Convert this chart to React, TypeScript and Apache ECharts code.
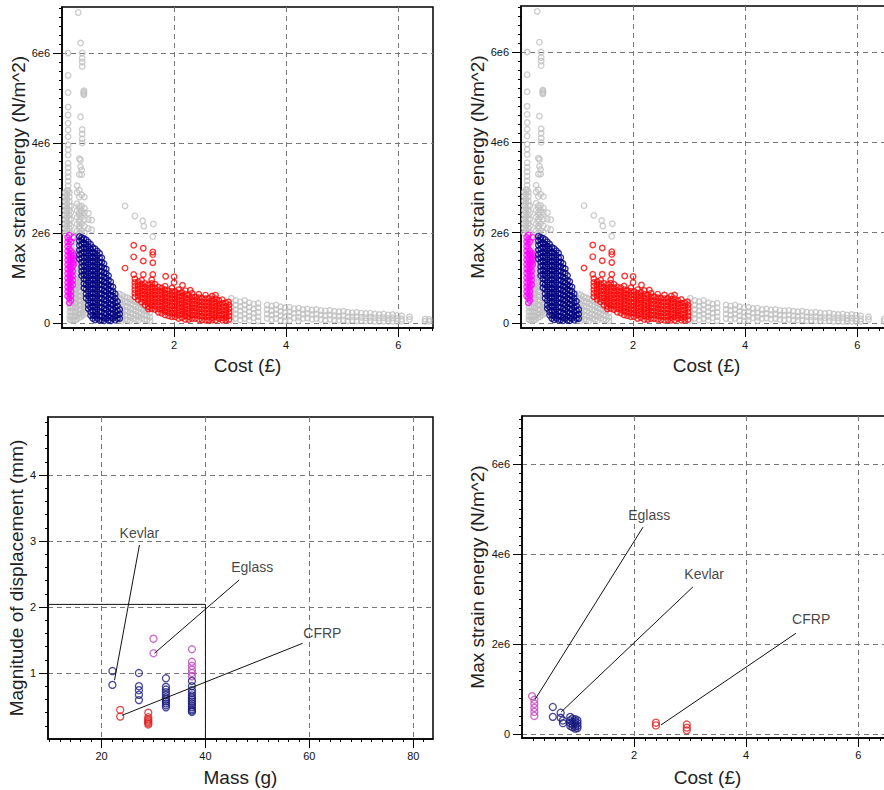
import React, { useEffect, useRef } from "react";
import * as echarts from "echarts";

type Col = [number, number[]];

// ---------- Top panels: Cost (£) vs Max strain energy (values in millions of N/m^2) ----------
const grayCols: Col[] = [
  [0.11, [6.0, 5.5, 5.12, 4.8, 4.62, 4.44, 4.29, 4.14, 3.96, 3.85, 3.73, 3.55, 3.45, 3.35, 3.25, 3.15, 3.05, 2.95]],
  [0.06, [2.9, 2.8, 2.7, 2.6, 2.5, 2.4, 2.3, 2.2, 2.1, 2.0]],
  [0.09, [2.95, 2.85, 2.75, 2.65, 2.55, 2.45, 2.35, 2.25, 2.15, 2.05]],
  [0.13, [2.9, 2.8, 2.7, 2.6, 2.5, 2.4, 2.3, 2.2, 2.1, 2.0]],
  [0.16, [2.6, 2.45, 2.3, 2.15, 2.0]],
  [0.29, [6.9]],
  [0.33, [6.22, 4.58, 3.62, 3.47]],
  [0.36, [6.0, 5.88, 5.8, 5.7, 4.3, 4.2, 4.09, 4.0]],
  [0.39, [5.16, 5.13, 5.1, 5.07]],
  [0.27, [3.05, 2.9, 2.65, 2.5, 2.35, 2.2, 2.05]],
  [0.31, [3.65, 3.3, 2.95, 2.8, 2.6, 2.55, 2.45, 2.4, 2.3, 2.25, 2.15, 2.1, 2.0]],
  [0.35, [3.4, 3.3, 2.85, 2.6, 2.5, 2.45, 2.35, 2.2, 2.05]],
  [0.4, [2.8, 2.55, 2.45, 2.3, 2.15, 2.0]],
  [0.47, [2.44, 2.3, 2.1]],
  [0.53, [2.29, 2.07]],
  [0.14, [0.55, 0.45, 0.35, 0.25, 0.15, 0.08]],
  [0.17, [0.75, 0.65, 0.55, 0.45, 0.35, 0.25, 0.15, 0.06]],
  [0.2, [0.85, 0.75, 0.65, 0.55, 0.45, 0.35, 0.25, 0.15, 0.06]],
  [0.23, [1.05, 0.95, 0.85, 0.75, 0.65, 0.55, 0.45, 0.35, 0.25, 0.15, 0.06]],
  [0.26, [1.85, 1.7, 1.55, 1.4, 1.25, 1.1, 0.95, 0.85, 0.75, 0.65, 0.55, 0.45, 0.35, 0.25, 0.15, 0.08]],
  [0.3, [1.6, 1.45, 1.3, 1.15, 1.0, 0.9, 0.8, 0.7, 0.6, 0.5, 0.4, 0.3, 0.2, 0.12]],
  [0.34, [1.2, 1.0, 0.85, 0.7, 0.6, 0.5, 0.4, 0.3, 0.2, 0.14]],
  [0.38, [0.65, 0.55, 0.45, 0.35, 0.25, 0.18]],
  [0.42, [0.4, 0.3, 0.22]],
  [1.02, [0.65, 0.55, 0.45, 0.35, 0.25, 0.15, 0.07]],
  [1.07, [0.62, 0.52, 0.42, 0.32, 0.22, 0.12, 0.05]],
  [1.12, [0.58, 0.48, 0.38, 0.28, 0.18, 0.08]],
  [1.17, [0.56, 0.46, 0.36, 0.26, 0.16, 0.07]],
  [1.22, [0.53, 0.43, 0.33, 0.23, 0.13, 0.05]],
  [1.27, [0.5, 0.4, 0.3, 0.2, 0.1]],
  [1.32, [0.47, 0.37, 0.27, 0.17, 0.08]],
  [1.37, [0.44, 0.34, 0.24, 0.14, 0.06]],
  [1.42, [0.41, 0.31, 0.21, 0.11]],
  [1.47, [0.38, 0.28, 0.18, 0.08]],
  [1.52, [0.36, 0.26, 0.16, 0.07]],
  [1.57, [0.33, 0.23, 0.13, 0.05]],
  [1.125, [2.6]],
  [1.3, [2.38]],
  [1.44, [2.27]],
  [1.46, [2.15]],
  [1.63, [2.2]],
  [1.62, [1.92]],
  [3.02, [0.55, 0.45, 0.35, 0.25, 0.15, 0.06]],
  [3.1, [0.5, 0.4, 0.3, 0.2, 0.1]],
  [3.18, [0.47, 0.37, 0.27, 0.17, 0.07]],
  [3.26, [0.5, 0.4, 0.3, 0.2, 0.1]],
  [3.34, [0.45, 0.35, 0.25, 0.15, 0.06]],
  [3.42, [0.42, 0.32, 0.22, 0.12]],
  [3.5, [0.44, 0.34, 0.24, 0.14, 0.05]],
  [3.66, [0.4, 0.3, 0.2, 0.1]],
  [3.74, [0.38, 0.28, 0.18, 0.08]],
  [3.82, [0.4, 0.3, 0.2, 0.1]],
  [3.9, [0.36, 0.26, 0.16, 0.06]],
  [3.98, [0.34, 0.24, 0.14, 0.05]],
  [4.06, [0.35, 0.25, 0.15, 0.06]],
  [4.14, [0.32, 0.22, 0.12]],
  [4.22, [0.33, 0.23, 0.13, 0.05]],
  [4.3, [0.3, 0.2, 0.1]],
  [4.38, [0.31, 0.21, 0.11]],
  [4.46, [0.29, 0.19, 0.09]],
  [4.54, [0.3, 0.2, 0.1]],
  [4.62, [0.28, 0.18, 0.08]],
  [4.7, [0.27, 0.17, 0.07]],
  [4.78, [0.28, 0.18, 0.08]],
  [4.86, [0.26, 0.16, 0.07]],
  [4.94, [0.25, 0.15, 0.06]],
  [5.02, [0.26, 0.16, 0.07]],
  [5.1, [0.24, 0.14, 0.05]],
  [5.18, [0.23, 0.14, 0.06]],
  [5.26, [0.24, 0.14, 0.05]],
  [5.34, [0.22, 0.13, 0.05]],
  [5.42, [0.21, 0.12, 0.05]],
  [5.5, [0.22, 0.13, 0.05]],
  [5.58, [0.2, 0.12, 0.04]],
  [5.66, [0.19, 0.11, 0.04]],
  [5.74, [0.2, 0.12, 0.04]],
  [5.82, [0.18, 0.1, 0.04]],
  [5.9, [0.19, 0.11, 0.04]],
  [5.98, [0.17, 0.1, 0.04]],
  [6.06, [0.16, 0.09, 0.04]],
  [6.2, [0.14, 0.08]],
  [6.48, [0.09, 0.04]],
  [6.55, [0.08, 0.04]],
];

const magentaCols: Col[] = [
  [0.1, [1.9, 1.8, 1.7, 1.6, 1.5, 1.4, 1.3, 1.2, 1.1, 1.0, 0.9, 0.8, 0.7, 0.6]],
  [0.13, [1.95, 1.85, 1.75, 1.65, 1.55, 1.45, 1.35, 1.25, 1.15, 1.05, 0.95, 0.85, 0.75, 0.65, 0.55, 0.45]],
  [0.16, [1.8, 1.6, 1.5, 1.4, 1.3, 1.2, 1.1, 1.0, 0.9, 0.8, 0.7, 0.6, 0.5]],
  [0.19, [1.55, 1.45, 1.35, 1.25, 1.15, 1.05, 0.95, 0.85]],
  [0.21, [1.9, 1.5, 1.4, 1.3]],
];

const navyCols: Col[] = [
  [0.31, [1.92, 1.82, 1.72, 1.62, 1.52, 1.42]],
  [0.35, [1.9, 1.85, 1.75, 1.65, 1.55, 1.45, 1.35, 1.25, 1.15, 1.05]],
  [0.39, [1.88, 1.78, 1.68, 1.58, 1.48, 1.38, 1.28, 1.18, 1.08, 0.98, 0.88, 0.78]],
  [0.43, [1.85, 1.75, 1.65, 1.55, 1.45, 1.35, 1.25, 1.15, 1.05, 0.95, 0.85, 0.75, 0.65, 0.55]],
  [0.47, [1.8, 1.7, 1.6, 1.5, 1.4, 1.3, 1.2, 1.1, 1.0, 0.9, 0.8, 0.7, 0.6, 0.5, 0.4, 0.32]],
  [0.51, [1.75, 1.65, 1.55, 1.45, 1.35, 1.25, 1.15, 1.05, 0.95, 0.85, 0.75, 0.65, 0.55, 0.45, 0.35, 0.25, 0.17]],
  [0.55, [1.68, 1.58, 1.48, 1.38, 1.28, 1.18, 1.08, 0.98, 0.88, 0.78, 0.68, 0.58, 0.48, 0.38, 0.28, 0.18, 0.1]],
  [0.59, [1.65, 1.55, 1.45, 1.35, 1.25, 1.15, 1.05, 0.95, 0.85, 0.75, 0.65, 0.55, 0.45, 0.35, 0.25, 0.15, 0.07]],
  [0.63, [1.6, 1.5, 1.4, 1.3, 1.2, 1.1, 1.0, 0.9, 0.8, 0.7, 0.6, 0.5, 0.4, 0.3, 0.2, 0.1]],
  [0.67, [1.55, 1.45, 1.35, 1.25, 1.15, 1.05, 0.95, 0.85, 0.75, 0.65, 0.55, 0.45, 0.35, 0.25, 0.15, 0.06]],
  [0.71, [1.45, 1.35, 1.25, 1.15, 1.05, 0.95, 0.85, 0.75, 0.65, 0.55, 0.45, 0.35, 0.25, 0.15, 0.07]],
  [0.75, [1.32, 1.22, 1.12, 1.02, 0.92, 0.82, 0.72, 0.62, 0.52, 0.42, 0.32, 0.22, 0.12, 0.05]],
  [0.79, [1.2, 1.1, 1.0, 0.9, 0.8, 0.7, 0.6, 0.5, 0.4, 0.3, 0.2, 0.1]],
  [0.83, [1.05, 0.95, 0.85, 0.75, 0.65, 0.55, 0.45, 0.35, 0.25, 0.15, 0.06]],
  [0.87, [0.92, 0.82, 0.72, 0.62, 0.52, 0.42, 0.32, 0.22, 0.12, 0.05]],
  [0.91, [0.8, 0.7, 0.6, 0.5, 0.4, 0.3, 0.2, 0.1]],
  [0.95, [0.65, 0.55, 0.45, 0.35, 0.25, 0.15, 0.06]],
  [0.99, [0.48, 0.38, 0.28, 0.18, 0.1]],
  [1.03, [0.3, 0.2, 0.1]],
];

const redCols: Col[] = [
  [1.125, [1.22]],
  [1.28, [1.73, 1.47, 1.08]],
  [1.45, [1.66, 1.38, 1.08]],
  [1.62, [1.58, 1.52, 1.34, 1.08]],
  [1.85, [1.04]],
  [2.0, [1.03, 0.9]],
  [2.15, [0.84]],
  [2.29, [0.73]],
  [2.97, [0.47]],
  [1.3, [0.98, 0.9, 0.82, 0.74, 0.66, 0.58]],
  [1.36, [0.92, 0.84, 0.76, 0.68, 0.6, 0.52]],
  [1.42, [0.95, 0.87, 0.79, 0.71, 0.63, 0.55, 0.47]],
  [1.48, [0.88, 0.8, 0.72, 0.64, 0.56, 0.48, 0.4]],
  [1.54, [0.85, 0.77, 0.69, 0.61, 0.53, 0.45, 0.37, 0.31]],
  [1.6, [0.96, 0.88, 0.8, 0.72, 0.64, 0.56, 0.48, 0.4, 0.32]],
  [1.66, [0.86, 0.78, 0.7, 0.62, 0.54, 0.46, 0.38, 0.3]],
  [1.72, [0.8, 0.72, 0.64, 0.56, 0.48, 0.4, 0.32, 0.24]],
  [1.78, [0.78, 0.7, 0.62, 0.54, 0.46, 0.38, 0.3, 0.22]],
  [1.84, [0.82, 0.74, 0.66, 0.58, 0.5, 0.42, 0.34, 0.26, 0.18]],
  [1.9, [0.72, 0.64, 0.56, 0.48, 0.4, 0.32, 0.24, 0.16]],
  [1.96, [0.78, 0.7, 0.62, 0.54, 0.46, 0.38, 0.3, 0.22, 0.14]],
  [2.02, [0.7, 0.62, 0.54, 0.46, 0.38, 0.3, 0.22, 0.14]],
  [2.08, [0.74, 0.66, 0.58, 0.5, 0.42, 0.34, 0.26, 0.18, 0.1]],
  [2.14, [0.68, 0.6, 0.52, 0.44, 0.36, 0.28, 0.2, 0.12]],
  [2.2, [0.72, 0.64, 0.56, 0.48, 0.4, 0.32, 0.24, 0.16, 0.08]],
  [2.26, [0.62, 0.54, 0.46, 0.38, 0.3, 0.22, 0.14, 0.08]],
  [2.32, [0.66, 0.58, 0.5, 0.42, 0.34, 0.26, 0.18, 0.1]],
  [2.38, [0.58, 0.5, 0.42, 0.34, 0.26, 0.18, 0.1]],
  [2.44, [0.64, 0.56, 0.48, 0.4, 0.32, 0.24, 0.16, 0.08]],
  [2.5, [0.55, 0.47, 0.39, 0.31, 0.23, 0.15, 0.07]],
  [2.56, [0.62, 0.54, 0.46, 0.38, 0.3, 0.22, 0.14, 0.06]],
  [2.62, [0.55, 0.47, 0.39, 0.31, 0.23, 0.15, 0.07]],
  [2.68, [0.6, 0.52, 0.44, 0.36, 0.28, 0.2, 0.12, 0.06]],
  [2.74, [0.62, 0.54, 0.46, 0.38, 0.3, 0.22, 0.14, 0.06]],
  [2.8, [0.5, 0.42, 0.34, 0.26, 0.18, 0.1]],
  [2.86, [0.52, 0.44, 0.36, 0.28, 0.2, 0.12, 0.06]],
  [2.92, [0.45, 0.37, 0.29, 0.21, 0.13, 0.06]],
  [2.98, [0.4, 0.32, 0.24, 0.16, 0.08]],
];

// ---------- Bottom-left: Mass (g) vs Magnitude of displacement (mm) ----------
const kevlarMass: Col[] = [
  [22.1, [1.03, 0.82]],
  [27.2, [1.0, 0.8, 0.74, 0.67, 0.59]],
  [32.4, [0.92, 0.79, 0.75, 0.71, 0.67, 0.63, 0.6, 0.57, 0.54, 0.51, 0.48]],
  [37.4, [0.88, 0.8, 0.74, 0.7, 0.66, 0.63, 0.6, 0.57, 0.54, 0.51, 0.48, 0.45, 0.43, 0.41]],
];
const eglassMass: Col[] = [
  [30.0, [1.52, 1.3]],
  [37.4, [1.36, 1.17, 1.11, 1.05, 1.0, 0.95]],
];
const cfrpMass: Col[] = [
  [23.6, [0.44, 0.34]],
  [29.0, [0.4, 0.33, 0.3, 0.28, 0.26, 0.24, 0.22]],
];
const massLimit = 40;
const dispLimit = 2.04;

// ---------- Bottom-right: Cost (£) vs Max strain energy (millions) ----------
const eglassCost: Col[] = [
  [0.18, [0.84]],
  [0.22, [0.76, 0.67, 0.58, 0.49, 0.4]],
];
const kevlarCost: Col[] = [
  [0.55, [0.6, 0.38]],
  [0.69, [0.47, 0.36]],
  [0.73, [0.3, 0.24]],
  [0.86, [0.38, 0.3, 0.24, 0.18]],
  [0.9, [0.34, 0.27, 0.21, 0.15]],
  [0.95, [0.33, 0.28, 0.22, 0.17, 0.12]],
  [0.99, [0.3, 0.24, 0.18, 0.13]],
];
const cfrpCost: Col[] = [
  [2.39, [0.25, 0.19]],
  [2.94, [0.21, 0.14, 0.08]],
];

// annotations (data coordinates): label position, line start, line end
const massNotes = [
  { name: "Kevlar", at: [27.3, 3.12], from: [27.3, 2.94], to: [22.5, 0.89] },
  { name: "Eglass", at: [49.0, 2.6], from: [46.5, 2.41], to: [30.2, 1.3] },
  { name: "CFRP", at: [62.5, 1.6], from: [58.7, 1.45], to: [24.0, 0.36] },
];
const costNotes = [
  { name: "Eglass", at: [2.27, 4.87], from: [2.16, 4.6], to: [0.23, 0.76] },
  { name: "Kevlar", at: [3.25, 3.56], from: [3.05, 3.27], to: [0.7, 0.49] },
  { name: "CFRP", at: [5.16, 2.56], from: [4.89, 2.24], to: [2.48, 0.2] },
];

// ---------- ticks ----------
const costTicks = [2, 4, 6];
const energyTicks = [0, 2e6, 4e6, 6e6];
const massTicks = [20, 40, 60, 80];
const dispTicks = [1, 2, 3, 4];

function steps(a: number, b: number, s: number): number[] {
  const out: number[] = [];
  for (let v = a; v <= b + 1e-9; v += s) out.push(+v.toFixed(6));
  return out;
}
const costMinor = steps(0.2, 6.6, 0.2);
const energyMinor = steps(0, 7.0, 0.2).map((v) => v * 1e6);
const massMinor = steps(10, 82, 2);
const dispMinor = steps(0.2, 4.8, 0.2);

const FONT = "'Liberation Sans', Arial, Helvetica, sans-serif";
const M = 1e6;

function pts(c: Col[], scale = 1): number[][] {
  return c.flatMap(([x, ys]) => ys.map((y) => [x, y * scale]));
}

const energyFmt = (v: number) => (v === 0 ? "0" : `${Math.round(v / M)}e6`);

function mainAxis(dim: "x" | "y", g: number, min: number, max: number, ticks: number[], name: string, nameGap: number, fmt?: (v: number) => string) {
  return {
    type: "value",
    gridIndex: g,
    position: dim === "x" ? "bottom" : "left",
    min,
    max,
    name,
    nameLocation: "middle",
    nameGap,
    nameTextStyle: { fontSize: 19, color: "#222", fontFamily: FONT },
    axisLine: { show: true, onZero: false, lineStyle: { color: "#000", width: 1.5 } },
    axisTick: { show: true, length: 9, customValues: ticks, lineStyle: { color: "#000", width: 1 } },
    axisLabel: {
      customValues: ticks,
      formatter: fmt ? fmt : (v: number) => String(v),
      fontSize: 11,
      color: "#111",
      fontFamily: FONT,
      margin: dim === "x" ? 11 : 12,
    },
    splitLine: { show: true, lineStyle: { color: "#777", type: [5, 4], width: 1 } },
  };
}

function minorAxis(dim: "x" | "y", g: number, min: number, max: number, ticks: number[]) {
  return {
    type: "value",
    gridIndex: g,
    position: dim === "x" ? "bottom" : "left",
    min,
    max,
    axisLine: { show: false, onZero: false },
    axisTick: { show: true, length: 3, customValues: ticks, lineStyle: { color: "#000", width: 1 } },
    axisLabel: { show: false },
    splitLine: { show: false },
  };
}

function scatter(g: number, data: number[][], color: string, size: number, bw: number) {
  return {
    type: "scatter",
    xAxisIndex: 2 * g,
    yAxisIndex: 2 * g,
    data,
    symbol: "circle",
    symbolSize: size,
    silent: true,
    itemStyle: { color: "rgba(0,0,0,0)", borderColor: color, borderWidth: bw },
  };
}

function lineSeries(g: number, data: number[][]) {
  return {
    type: "line",
    xAxisIndex: 2 * g,
    yAxisIndex: 2 * g,
    data,
    symbol: "none",
    silent: true,
    z: 5,
    lineStyle: { color: "#111", width: 1 },
  };
}

function noteSeries(g: number, notes: { name: string; at: number[]; from: number[]; to: number[] }[], scale: number) {
  const out: any[] = notes.map((n) =>
    lineSeries(g, [
      [n.from[0], n.from[1] * scale],
      [n.to[0], n.to[1] * scale],
    ])
  );
  out.push({
    type: "scatter",
    xAxisIndex: 2 * g,
    yAxisIndex: 2 * g,
    symbolSize: 1,
    silent: true,
    z: 6,
    itemStyle: { color: "rgba(0,0,0,0)" },
    data: notes.map((n) => ({ name: n.name, value: [n.at[0], n.at[1] * scale] })),
    label: { show: true, position: "inside", formatter: "{b}", fontSize: 14, color: "#111", fontFamily: FONT },
  });
  return out;
}

function buildOption() {
  const grids = [
    { left: 62, top: 7, width: 371, height: 321 },
    { left: 521, top: 6, width: 371, height: 322 },
    { left: 48, top: 417, width: 385, height: 322 },
    { left: 522, top: 416, width: 371, height: 322 },
  ].map((g) => ({
    ...g,
    show: true,
    borderColor: "#000",
    borderWidth: 1.5,
    backgroundColor: "rgba(0,0,0,0)",
    containLabel: false,
    outerBoundsMode: "none",
  }));

  const xAxis: any[] = [];
  const yAxis: any[] = [];
  [0, 1].forEach((g) => {
    xAxis.push(mainAxis("x", g, 0, 6.62, costTicks, "Cost (£)", 28));
    xAxis.push(minorAxis("x", g, 0, 6.62, costMinor));
    yAxis.push(mainAxis("y", g, -0.11 * M, 7.02 * M, energyTicks, "Max strain energy (N/m^2)", g === 0 ? 33 : 34, energyFmt));
    yAxis.push(minorAxis("y", g, -0.11 * M, 7.02 * M, energyMinor));
  });
  xAxis.push(mainAxis("x", 2, 9.7, 83.8, massTicks, "Mass (g)", 29));
  xAxis.push(minorAxis("x", 2, 9.7, 83.8, massMinor));
  yAxis.push(mainAxis("y", 2, 0, 4.88, dispTicks, "Magnitude of displacement (mm)", 20));
  yAxis.push(minorAxis("y", 2, 0, 4.88, dispMinor));
  xAxis.push(mainAxis("x", 3, 0, 6.62, costTicks, "Cost (£)", 30));
  xAxis.push(minorAxis("x", 3, 0, 6.62, costMinor));
  yAxis.push(mainAxis("y", 3, -0.09 * M, 7.07 * M, energyTicks, "Max strain energy (N/m^2)", 35, energyFmt));
  yAxis.push(minorAxis("y", 3, -0.09 * M, 7.07 * M, energyMinor));

  const series: any[] = [];
  [0, 1].forEach((g) => {
    series.push(scatter(g, pts(grayCols, M), "#c0c0c0", 5.5, 1.4));
    series.push(scatter(g, pts(magentaCols, M), "#ff00ff", 5.5, 1.4));
    series.push(scatter(g, pts(navyCols, M), "#000080", 5.5, 1.4));
    series.push(scatter(g, pts(redCols, M), "#ff0000", 5.5, 1.4));
  });

  series.push(scatter(2, pts(eglassMass), "#c040c0", 7, 1.3));
  series.push(scatter(2, pts(kevlarMass), "#1a1a80", 7, 1.3));
  series.push(scatter(2, pts(cfrpMass), "#dd2020", 7, 1.3));
  series.push(
    lineSeries(2, [
      [9.7, dispLimit],
      [massLimit, dispLimit],
      [massLimit, 0],
    ])
  );
  series.push(...noteSeries(2, massNotes, 1));

  series.push(scatter(3, pts(eglassCost, M), "#c040c0", 7, 1.3));
  series.push(scatter(3, pts(kevlarCost, M), "#1a1a80", 7, 1.3));
  series.push(scatter(3, pts(cfrpCost, M), "#dd2020", 7, 1.3));
  series.push(...noteSeries(3, costNotes, M));

  return {
    animation: false,
    backgroundColor: "#ffffff",
    textStyle: { fontFamily: FONT },
    grid: grids,
    xAxis,
    yAxis,
    series,
  };
}

export default function App() {
  const ref = useRef<HTMLDivElement>(null);
  useEffect(() => {
    if (!ref.current) return;
    const chart = echarts.init(ref.current, undefined, { renderer: "svg" });
    chart.setOption(buildOption() as any);
    return () => chart.dispose();
  }, []);
  return (
    <div style={{ position: "absolute", left: 0, top: 0, width: 884, height: 790, overflow: "hidden", background: "#fff" }}>
      <div ref={ref} style={{ width: 900, height: 790 }} />
    </div>
  );
}
